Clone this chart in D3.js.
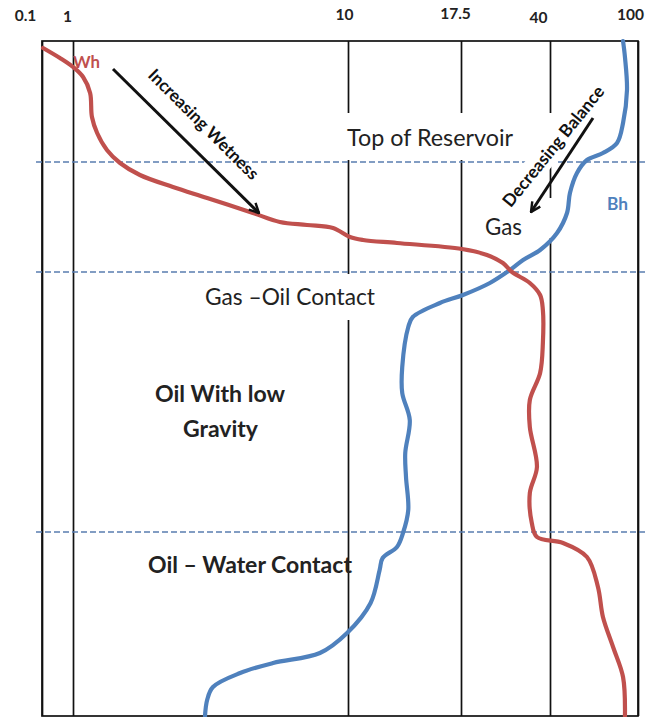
<!DOCTYPE html>
<html>
<head>
<meta charset="utf-8">
<script src="https://cdn.jsdelivr.net/npm/d3@7"></script>
<style>
  html, body { margin: 0; padding: 0; background: #fff; }
  svg { display: block; }
</style>
</head>
<body>
<svg id="chart" width="657" height="717"></svg>
<script>
// Reference values on the horizontal axis (non-uniform ruler)
const xTicks = [0.1, 1, 10, 17.5, 40, 100];
const tickLabels = ["0.1", "1", "10", "17.5", "40", "100"];

// Fluid contacts (depth units from top of log)
const contactDepths = [24.2, 46.2, 98.2];

// Wh (wetness ratio) profile
const whValue = [0.13, 0.62, 1.0, 1.33, 1.56, 1.62, 1.79, 2.11, 2.54, 3.19, 4.27, 5.39, 6.89, 7.77, 8.66, 9.51,
  10.13, 11.0, 13.25, 17.75, 24.07, 28.1, 30.4, 34.9, 37.5, 38.2, 38.2, 37.5, 34.9, 34.9, 36.7, 34.9, 35.4, 36.7,
  48.9, 65.2, 72.7, 76.1, 83.0, 89.8, 91.1];
const whDepth = [1.4, 3.4, 5.2, 7.2, 10.4, 15.2, 18.4, 21.8, 24.4, 26.8, 29.2, 31.4, 34.4, 36.2, 36.8, 37.4,
  39.2, 39.8, 40.4, 41.6, 42.8, 44.4, 46.2, 48.4, 50.8, 53.8, 60.4, 66.4, 71.8, 77.2, 85.2, 90.4, 96.4, 99.2,
  100.4, 103.2, 109.2, 115.2, 121.2, 127.2, 135];

// Bh (balance ratio) profile
const bhValue = [89.8, 91.1, 92.5, 89.8, 85.7, 76.1, 65.2, 58.4, 53.6, 51.6, 44.8, 37.5, 33.2, 29.9, 24.8, 18.0,
  16.1, 14.3, 14.0, 13.6, 13.6, 14.1, 13.8, 13.85, 14.0, 13.65, 13.25, 12.3, 12.1, 11.5, 9.97, 9.08, 7.55, 6.47,
  5.58, 5.39, 5.32];
const bhDepth = [0, 3.2, 9.8, 16.4, 20.4, 22.4, 23.8, 26.4, 30.4, 34.4, 38.4, 41.8, 43.8, 45.8, 48.4, 50.8,
  52.4, 55.2, 57.2, 65.2, 70.4, 75.8, 82.4, 87.2, 93.8, 98.4, 101.2, 103.4, 105.8, 112.4, 118.4, 122.4, 124.4, 126.4,
  129.2, 131.8, 135];

const FONT = "Lato, 'Open Sans', sans-serif";
const TEXT = "#222";
const RED = "#c0504d";
const BLUE = "#4f81bd";

const svg = d3.select("#chart");
const plotLeft = 42, plotRight = 638, plotTop = 41, plotBottom = 716;

// Piecewise ruler: each reference value has its own station along the axis
const x = d3.scaleLinear().domain(xTicks).range([plotLeft, 73, 348, 461, 550, plotRight]);
const y = d3.scaleLinear().domain([0, 135]).range([plotTop, plotBottom]);

svg.append("rect").attr("width", 657).attr("height", 717).attr("fill", "#fff");

// Frame
svg.append("rect")
  .attr("x", plotLeft).attr("y", plotTop)
  .attr("width", plotRight - plotLeft).attr("height", plotBottom - plotTop)
  .attr("fill", "none").attr("stroke", "#111").attr("stroke-width", 1.7);

// Vertical reference lines + labels via a top axis
const labelShift = [-17, -6, -4, -6, -12, -8];
const labelDrop = [0, 1, -1, -2, 2, -1];
const axis = d3.axisTop(x)
  .tickValues(xTicks)
  .tickFormat((d, i) => tickLabels[i])
  .tickSizeInner(-(plotBottom - plotTop))
  .tickSizeOuter(0)
  .tickPadding(20);
const gAxis = svg.append("g").attr("transform", `translate(0,${plotTop})`).call(axis);
gAxis.select(".domain").remove();
gAxis.selectAll(".tick line").attr("stroke", "#111").attr("stroke-width", 1.7);
gAxis.selectAll(".tick text")
  .style("font-family", FONT).style("font-weight", 700).style("font-size", "15.5px")
  .attr("fill", TEXT)
  .attr("dx", (d, i) => labelShift[i])
  .attr("dy", (d, i) => labelDrop[i]);

// Contact lines
svg.append("g").selectAll("line").data(contactDepths).join("line")
  .attr("x1", plotLeft - 6).attr("x2", plotRight + 7)
  .attr("y1", d => y(d)).attr("y2", d => y(d))
  .attr("stroke", "#5a7db0").attr("stroke-width", 1.6)
  .attr("stroke-dasharray", "6,3");

// Opaque text boxes sitting over the grid
const boxes = [
  { x: 335, y: 113, w: 222, h: 47 },
  { x: 190, y: 274, w: 195, h: 46 },
  { x: 476, y: 198, w: 78, h: 40 }
];
svg.append("g").selectAll("rect").data(boxes).join("rect")
  .attr("x", d => d.x).attr("y", d => d.y).attr("width", d => d.w).attr("height", d => d.h)
  .attr("fill", "#fff");

// Box behind rotated "Decreasing Balance"
svg.append("rect")
  .attr("x", -78).attr("y", -12).attr("width", 156).attr("height", 24)
  .attr("fill", "#fff")
  .attr("transform", "translate(553,146) rotate(-51)");

function fit(sel, width) {
  const w = sel.node().getComputedTextLength();
  const fs = parseFloat(sel.attr("font-size"));
  sel.attr("font-size", (fs * width / w).toFixed(2));
  return sel;
}

const labels = [
  { t: "Top of Reservoir", x: 430, y: 146, w: 166, b: 400, c: TEXT },
  { t: "Gas \u2013Oil Contact", x: 290, y: 305, w: 170, b: 400, c: TEXT },
  { t: "Gas", x: 503.5, y: 235, w: 37, b: 400, c: TEXT },
  { t: "Oil With low", x: 220, y: 402, w: 130, b: 700, c: TEXT },
  { t: "Gravity", x: 220.5, y: 437, w: 75, b: 700, c: TEXT },
  { t: "Oil \u2013 Water Contact", x: 250, y: 573, w: 204, b: 700, c: TEXT },
  { t: "Wh", x: 86.5, y: 68, w: 27, b: 700, c: RED },
  { t: "Bh", x: 617.5, y: 210, w: 21, b: 700, c: BLUE }
];
labels.forEach(l => {
  const t = svg.append("text")
    .attr("x", l.x).attr("y", l.y)
    .attr("text-anchor", "middle")
    .attr("font-family", FONT).attr("font-weight", l.b).attr("font-size", 16)
    .attr("fill", l.c)
    .text(l.t);
  fit(t, l.w);
});

// Rotated trend captions
const rot = [
  { t: "Increasing Wetness", x: 204, y: 124, a: 45, w: 148 },
  { t: "Decreasing Balance", x: 553, y: 146, a: -51, w: 150 }
];
rot.forEach(r => {
  const t = svg.append("text")
    .attr("transform", `translate(${r.x},${r.y}) rotate(${r.a})`)
    .attr("text-anchor", "middle").attr("dominant-baseline", "central")
    .attr("font-family", FONT).attr("font-weight", 700).attr("font-size", 13)
    .attr("fill", "#111")
    .text(r.t);
  fit(t, r.w);
});

// Profiles
const line = d3.line()
  .x(d => x(d[0])).y(d => y(d[1]))
  .curve(d3.curveCatmullRom.alpha(0.5));

const wh = whValue.map((v, i) => [v, whDepth[i]]);
const bh = bhValue.map((v, i) => [v, bhDepth[i]]);

svg.append("path").datum(bh).attr("d", line)
  .attr("fill", "none").attr("stroke", BLUE).attr("stroke-width", 4.2)
  .attr("stroke-linejoin", "round").attr("stroke-linecap", "round");
svg.append("path").datum(wh).attr("d", line)
  .attr("fill", "none").attr("stroke", RED).attr("stroke-width", 4.2)
  .attr("stroke-linejoin", "round").attr("stroke-linecap", "round");

// Trend arrows
svg.append("defs").append("marker")
  .attr("id", "head").attr("viewBox", "0 0 10 10")
  .attr("refX", 9).attr("refY", 5)
  .attr("markerWidth", 4).attr("markerHeight", 4)
  .attr("orient", "auto")
  .append("path").attr("d", "M1,1 L9,5 L1,9")
  .attr("fill", "none").attr("stroke", "#111").attr("stroke-width", 2);

const arrows = [
  { x1: 113, y1: 69, x2: 259, y2: 213 },
  { x1: 593, y1: 118, x2: 531, y2: 212 }
];
svg.append("g").selectAll("line").data(arrows).join("line")
  .attr("x1", d => d.x1).attr("y1", d => d.y1).attr("x2", d => d.x2).attr("y2", d => d.y2)
  .attr("stroke", "#111").attr("stroke-width", 3)
  .attr("marker-end", "url(#head)");
</script>
</body>
</html>
